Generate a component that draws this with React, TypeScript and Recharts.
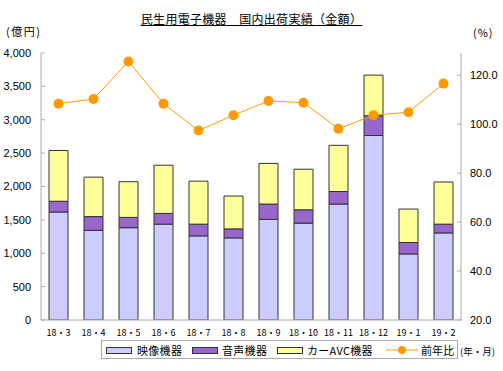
import React from "react";
import { ComposedChart, Bar, Line, XAxis, YAxis } from "recharts";

const months = ["18・3", "18・4", "18・5", "18・6", "18・7", "18・8", "18・9", "18・10", "18・11", "18・12", "19・1", "19・2"];
const video = [1618, 1343, 1383, 1436, 1260, 1230, 1507, 1451, 1737, 2764, 990, 1305];
const audio = [161, 206, 154, 161, 176, 135, 230, 200, 188, 296, 171, 131];
const carAvc = [761, 591, 535, 722, 644, 492, 609, 608, 692, 609, 501, 632];
const yoy = [108.4, 110.3, 125.6, 108.4, 97.4, 103.7, 109.5, 108.8, 98.1, 103.7, 104.9, 116.6];
const leftTicks = [0, 500, 1000, 1500, 2000, 2500, 3000, 3500, 4000];
const rightTicks = [20, 40, 60, 80, 100, 120];

const data = months.map((m, i) => ({
  month: m,
  video: video[i],
  audio: audio[i],
  carAvc: carAvc[i],
  yoy: yoy[i],
}));

const FONT = "'Noto Sans CJK JP', 'Noto Sans', sans-serif";
const NUMFONT = "'Liberation Sans', Arial, sans-serif";

const XTick = (props: any) => {
  const { x, y, payload } = props;
  return (
    <text x={x} y={y + 8} textAnchor="middle" fontSize={9} fontFamily={FONT} fill="#000">
      {payload.value}
    </text>
  );
};

const Swatch = ({ left, color }: { left: number; color: string }) => (
  <div
    style={{
      position: "absolute",
      left,
      top: 347,
      width: 24,
      height: 5,
      background: color,
      border: "1px solid #333",
    }}
  />
);

const Label = ({ left, text, size = 11, top = 344, spacing = 0.3 }: { left: number; text: string; size?: number; top?: number; spacing?: number }) => (
  <div
    style={{
      position: "absolute",
      left,
      top,
      fontSize: size,
      lineHeight: "13px",
      letterSpacing: spacing,
      fontFamily: FONT,
      whiteSpace: "nowrap",
      color: "#000",
    }}
  >
    {text}
  </div>
);

export default function App() {
  return (
    <div style={{ position: "absolute", left: 0, top: 0, width: 503, height: 371, background: "#fff", fontFamily: FONT }}>
      <div
        style={{
          position: "absolute",
          left: 0,
          width: 503,
          top: 10,
          textAlign: "center",
          fontSize: 12,
          letterSpacing: 0.3,
          lineHeight: "18px",
          textDecoration: "underline",
          fontFamily: FONT,
        }}
      >
        民生用電子機器　国内出荷実績（金額）
      </div>
      <div style={{ position: "absolute", left: 6, top: 24, fontSize: 11, lineHeight: "14px", letterSpacing: 1.5, fontFamily: FONT }}>
        (億円)
      </div>
      <div style={{ position: "absolute", left: 473, top: 25, fontSize: 11, lineHeight: "14px", letterSpacing: 1, fontFamily: FONT }}>
        (%)
      </div>
      <ComposedChart
        width={503}
        height={371}
        data={data}
        margin={{ top: 53, right: 0, left: 0, bottom: 31 }}
        barSize={19}
      >
        <XAxis
          dataKey="month"
          height={20}
          tick={<XTick />}
          tickLine={false}
          axisLine={{ stroke: "#aaa" }}
          interval={0}
        />
        <YAxis
          yAxisId="left"
          orientation="left"
          width={41}
          domain={[0, 4000]}
          ticks={leftTicks}
          interval={0}
          tickFormatter={(v: number) => v.toLocaleString("en-US")}
          tick={{ fontSize: 11, fill: "#000", fontFamily: NUMFONT }}
          tickSize={-4}
          tickMargin={14}
          axisLine={{ stroke: "#aaa" }}
          tickLine={{ stroke: "#aaa" }}
          allowDataOverflow
        />
        <YAxis
          yAxisId="right"
          orientation="right"
          width={42}
          domain={[20, 129.1]}
          ticks={rightTicks}
          interval={0}
          tickFormatter={(v: number) => v.toFixed(1)}
          tick={{ fontSize: 11, fill: "#000", fontFamily: NUMFONT, textAnchor: "start" }}
          tickSize={-4}
          tickMargin={13}
          axisLine={{ stroke: "#aaa" }}
          tickLine={{ stroke: "#aaa" }}
          allowDataOverflow
        />
        <Bar yAxisId="left" dataKey="video" stackId="a" fill="#CCCCFF" stroke="#333" strokeWidth={1} isAnimationActive={false} />
        <Bar yAxisId="left" dataKey="audio" stackId="a" fill="#9966CC" stroke="#333" strokeWidth={1} isAnimationActive={false} />
        <Bar yAxisId="left" dataKey="carAvc" stackId="a" fill="#FFFF99" stroke="#333" strokeWidth={1} isAnimationActive={false} />
        <Line
          yAxisId="right"
          dataKey="yoy"
          stroke="#FF9900"
          strokeWidth={1}
          dot={{ r: 5, fill: "#FF9900", stroke: "none" }}
          isAnimationActive={false}
        />
      </ComposedChart>
      <div
        style={{
          position: "absolute",
          left: 101,
          top: 340,
          width: 357,
          height: 19,
          border: "1px solid #aaa",
          boxSizing: "border-box",
        }}
      />
      <Swatch left={106} color="#CCCCFF" />
      <Label left={137} text="映像機器" />
      <Swatch left={192} color="#9966CC" />
      <Label left={222} text="音声機器" />
      <Swatch left={277} color="#FFFF99" />
      <Label left={307} text="カーAVC機器" />
      <svg style={{ position: "absolute", left: 386, top: 344 }} width={32} height={12}>
        <line x1={0} y1={6} x2={32} y2={6} stroke="#FF9900" strokeWidth={1} />
        <circle cx={16} cy={6} r={4} fill="#FF9900" />
      </svg>
      <Label left={421} text="前年比" spacing={0} />
      <Label left={460} text="(年・月)" size={9.5} top={345} spacing={0} />
    </div>
  );
}
